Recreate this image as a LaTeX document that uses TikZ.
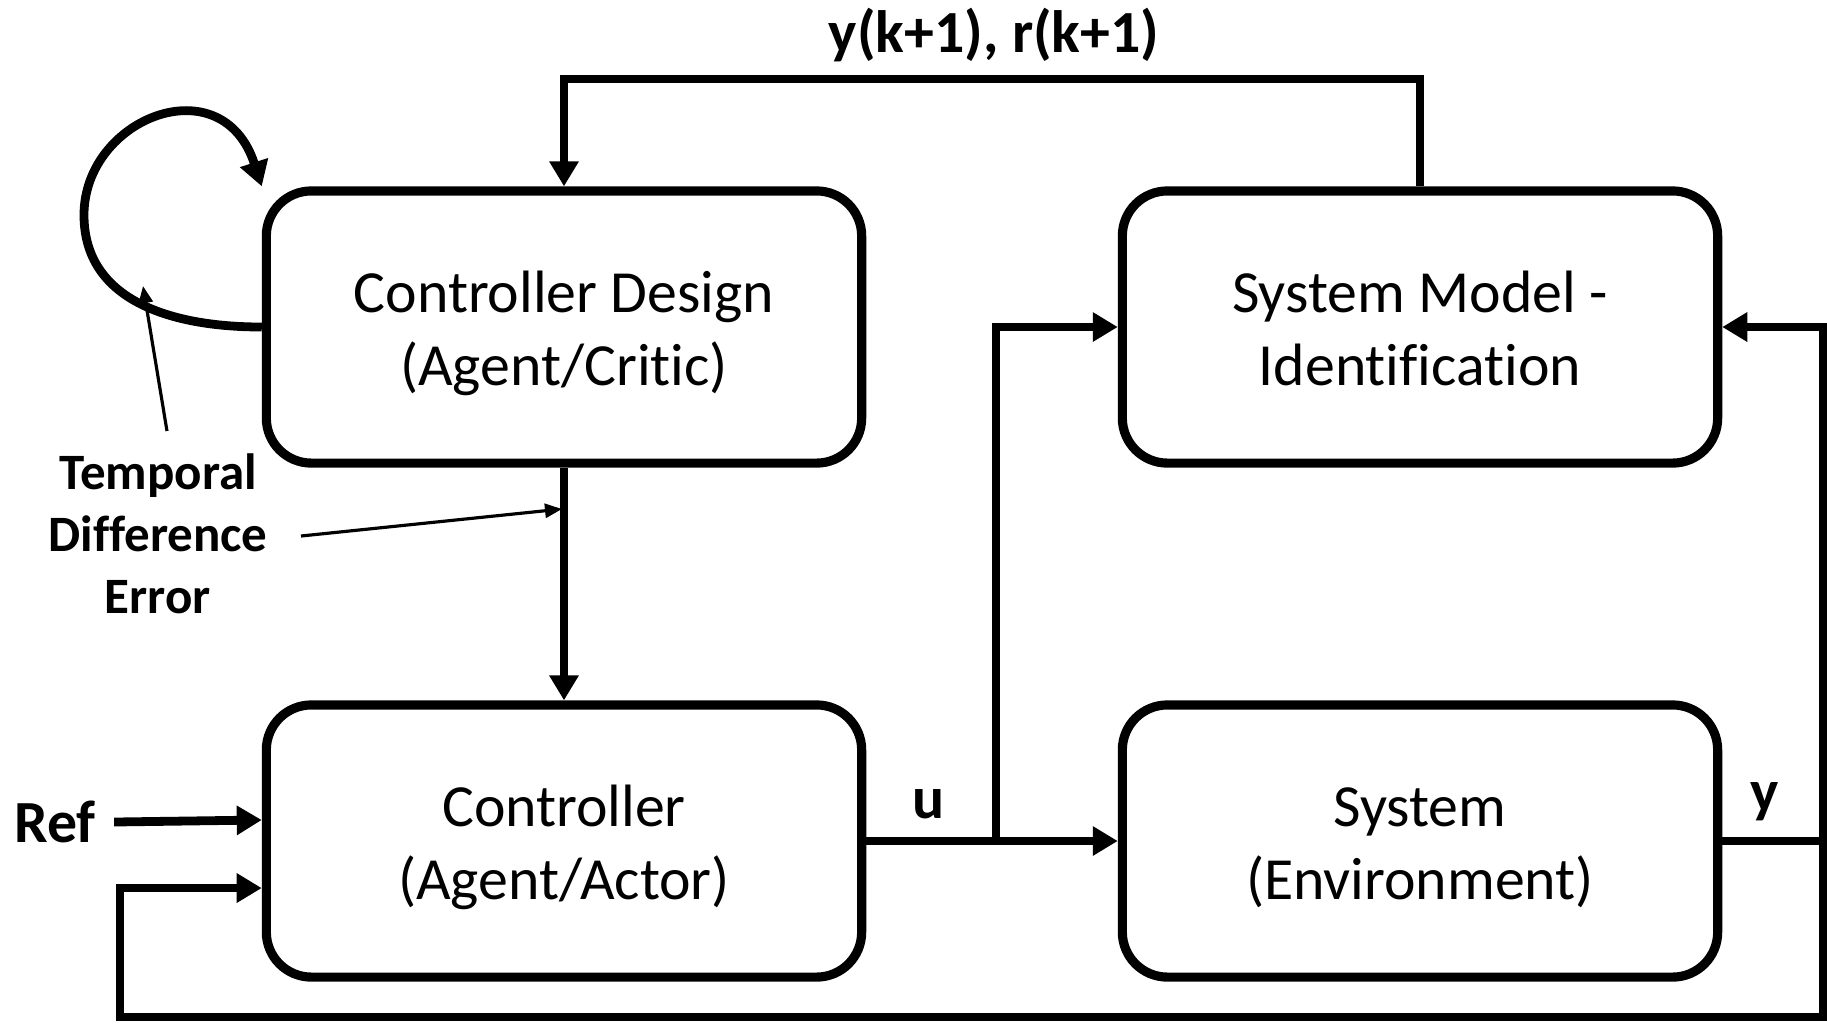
\documentclass[tikz,border=0pt]{standalone}
\usepackage{fontspec}
\setmainfont{Carlito}[Ligatures=NoCommon]
\usetikzlibrary{arrows.meta}

\newcommand*{\boxW}{5.95cm}
\newcommand*{\boxH}{2.72cm}
\newcommand*{\topstrut}{\rule{0pt}{17pt}}
\newcommand*{\botstrut}{\rule[-4.5pt]{0pt}{4.5pt}}

\tikzset{
  blk/.style={draw, line width=2.6pt, rounded corners=0.45cm,
    minimum width=\boxW, minimum height=\boxH, align=center,
    font=\fontsize{17}{20.5}\selectfont},
  wire/.style={line width=2.5pt},
  sig/.style={wire, -{Triangle[length=0.25cm,width=0.28cm]}},
  lbl/.style={font=\bfseries\fontsize{17}{20}\selectfont},
  tdarrow/.style={line width=0.9pt, -{Triangle[length=0.17cm,width=0.14cm]}},
}

\begin{document}
\begin{tikzpicture}[x=0.01cm,y=-0.01cm]
    \useasboundingbox (0,0) rectangle (1827,1023);

    % blocks
    \node[blk] (cd) at (564,327) {\topstrut Controller Design\\(Agent/Critic)\botstrut};
    \node[blk] (sm) at (1420,327) {\topstrut System Model -\\Identification\botstrut};
    \node[blk] (ct) at (564,841) {\topstrut Controller\\(Agent/Actor)\botstrut};
    \node[blk] (sy) at (1420,841) {\topstrut System\\(Environment)\botstrut};

    % labels
    \node[lbl] (yr) at (994,35) {y(k+1), r(k+1)};
    \node[lbl] (ref) at (55,822) {Ref};
    \node[lbl] (u) at (929,804) {u};
    \node[lbl] (y) at (1765,802) {y};
    \node[align=center, font=\bfseries\fontsize{14.5}{17.6}\selectfont] (td) at (158,534)
        {Temporal\\Difference\\Error};

    % corner points
    \coordinate (br) at (996,841);
    \coordinate (rt) at (1823,841);
    \coordinate (bl) at (120,1017);
    \coordinate (tp) at (1420,79);

    % forward path
    \draw[sig] (cd.south) -- (ct.north);
    \draw[wire] (ct.east) -- (br);
    \draw[sig] (br) -- (sy.west);
    \draw[sig] (br) |- (sm.west);
    \draw[sig] (ref.east) ++(6,0) -- ([yshift=0.21cm]ct.west);

    % feedback
    \draw[wire] (sy.east) -- (rt);
    \draw[sig] (rt) |- (sm.east);
    \draw[sig] (rt) |- (bl) |- ([yshift=-0.47cm]ct.west);
    \draw[sig] (sm.north) -- (tp) -| (cd.north);

    % critic loop
    \draw[sig] (cd.west) .. controls (170,327) and (84,300) .. (84,215)
        .. controls (84,118) and (222,64) .. (cd.north west);

    % temporal difference pointers
    \coordinate (tdA) at (167,431);
    \coordinate (tdL) at (143,286);
    \coordinate (tdB) at (301,536);
    \coordinate (tdV) at (562,509);
    \draw[tdarrow] (tdA) -- (tdL);
    \draw[tdarrow] (tdB) -- (tdV);

\end{tikzpicture}
\end{document}
